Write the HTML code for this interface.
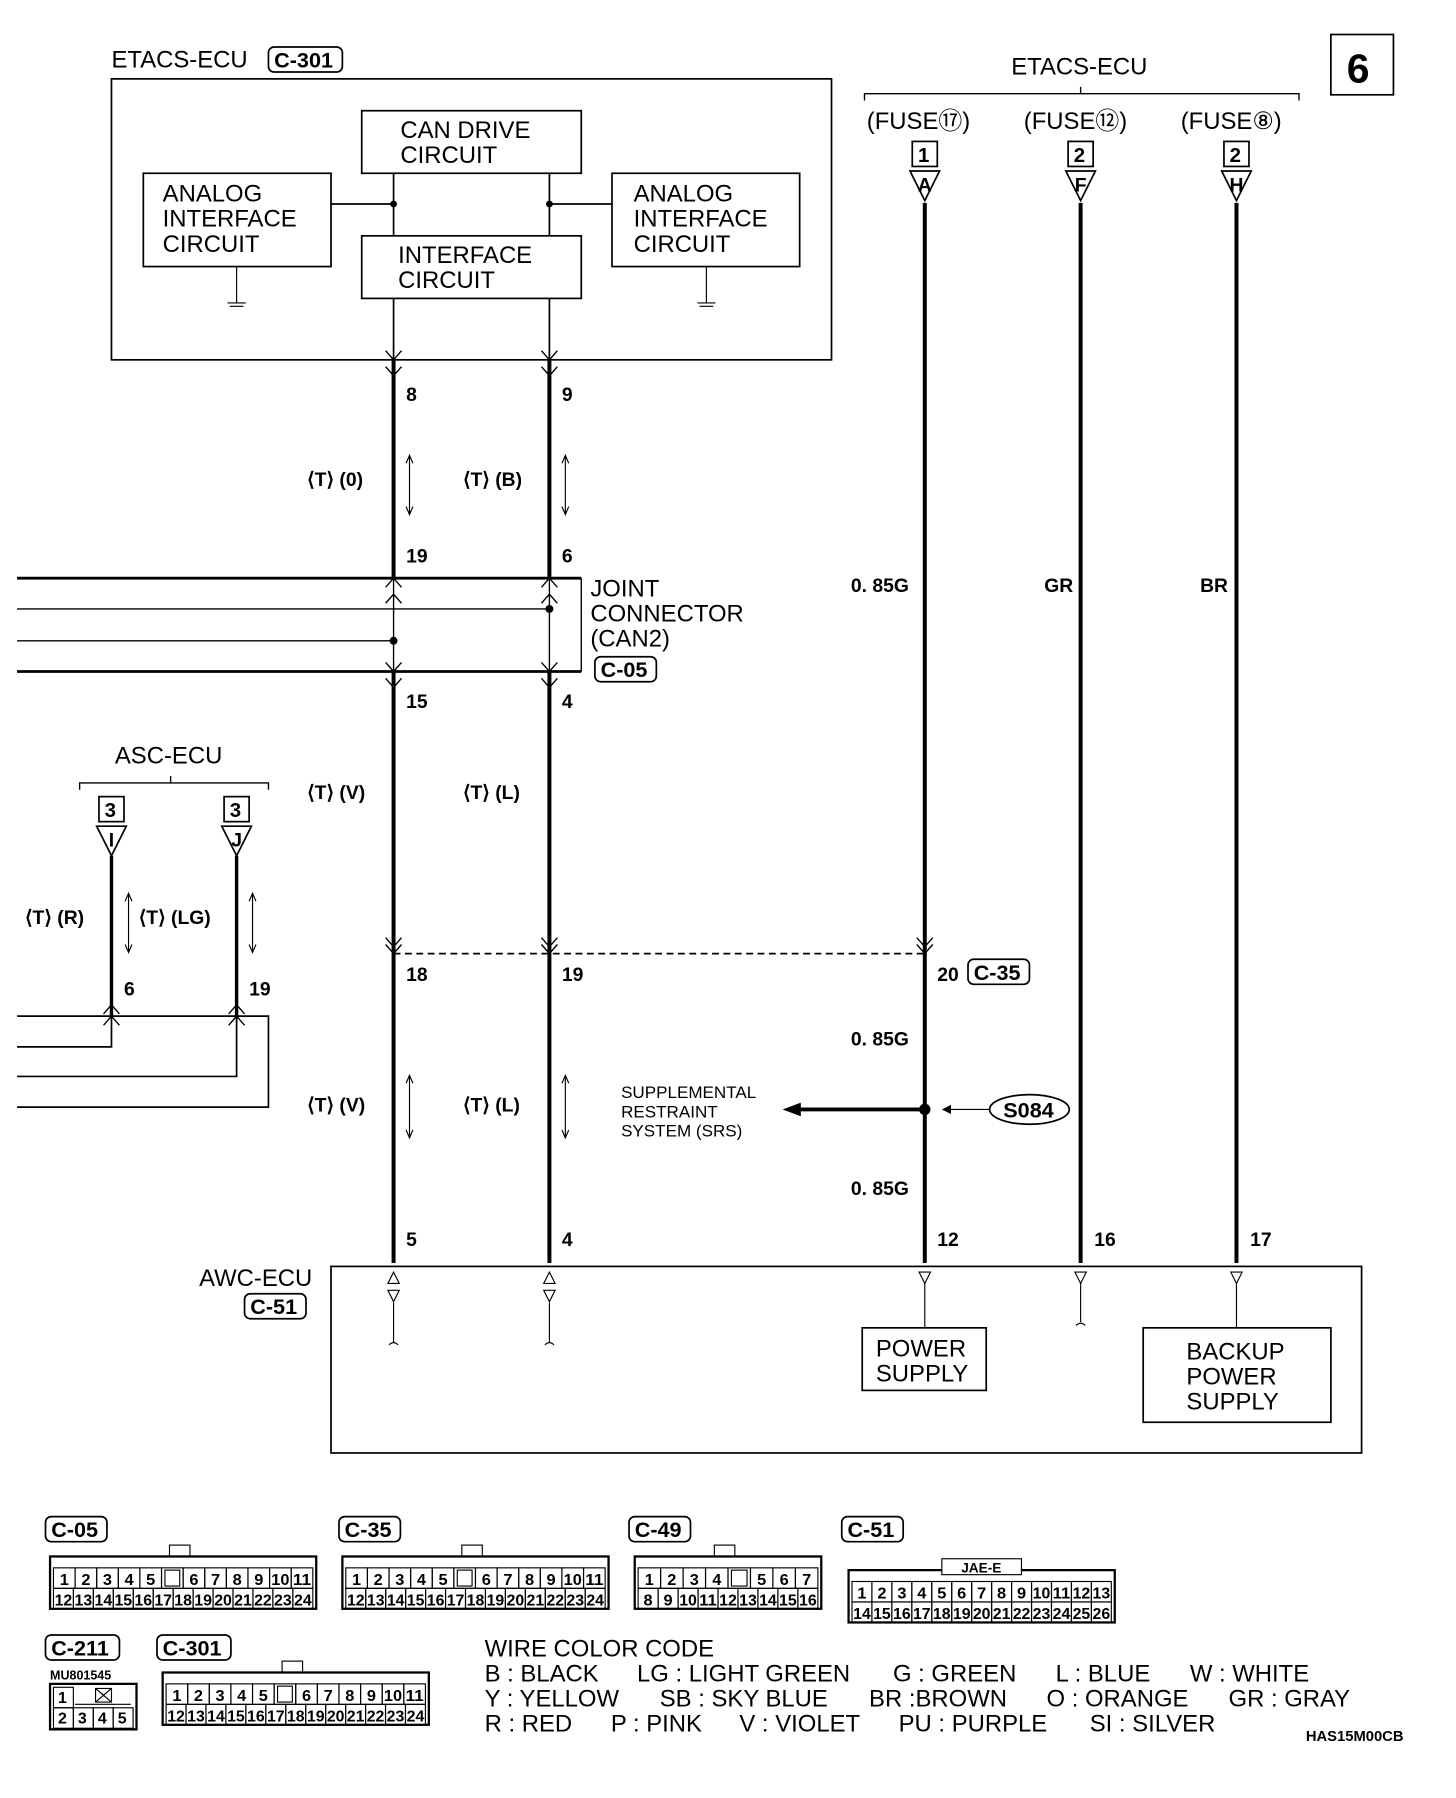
<!DOCTYPE html>
<html><head><meta charset="utf-8"><style>
html,body{margin:0;padding:0;background:#fff}
svg{display:block}
text{font-family:"Liberation Sans",sans-serif;fill:#000;white-space:pre}
.b{font-weight:bold}
</style></head><body>
<svg id="s" width="1456" height="1798" viewBox="0 0 1280 1580" xmlns="http://www.w3.org/2000/svg">
<g fill="none" stroke="#000" stroke-width="1.5">
<rect x="1170" y="30" width="55" height="53"/>
<rect x="98" y="69" width="633" height="247"/>
<rect x="318" y="97" width="193" height="55"/>
<rect x="126" y="152" width="165" height="82"/>
<rect x="318" y="207" width="193" height="55"/>
<rect x="538" y="152" width="165" height="82"/>
<path d="M291 179H346M483 179H538M346 152V207M483 152V207M346 262V316M483 262V316"/>
<path d="M208 234V266M200 266h16M202 269h12M621 234V266M613 266h16M615 269h12" stroke-width="1"/>
<path d="M760 88V82H1142V88M950 82V76M70 694V688H236V694M150 688V682" stroke-width="1.2"/>
<path d="M15 535H483M15 563H346M346 508V590M483 508V590M511 508V590" stroke-width="1.2"/>
<path d="M346 316V508M483 316V508M346 590V1110M483 590V1110M813 178V1110M950 178V1110M1087 178V1110" stroke-width="3.5"/>
<path d="M15 508H511M15 590H511" stroke-width="2.5"/>
<path d="M98 752V893M208 752V893" stroke-width="3"/>
<path d="M15 893H236V973H15M15 920H98V893M15 946H208V893" stroke-width="1.5"/>
<path d="M346 838H813" stroke-dasharray="6,4"/>
<path d="M813 975H700" stroke-width="3.5"/>
<path d="M870 975H830" stroke-width="1"/>
<rect x="291" y="1113" width="906" height="164"/>
<rect x="758" y="1167" width="109" height="55"/>
<rect x="1005" y="1167" width="165" height="83"/>
<path d="M813 1128V1167M1087 1128V1167M950 1128V1162M346 1145V1180M483 1145V1180" stroke-width="1"/>
<path d="M342 1182q4-4 8 0M479 1182q4-4 8 0M946 1165q4-4 8 0" stroke-width="1"/>
<ellipse cx="905" cy="975" rx="35" ry="13"/>
</g>
<g fill="#000"><circle cx="346" cy="179" r="3"/><circle cx="483" cy="179" r="3"/><circle cx="483" cy="535" r="3.5"/><circle cx="346" cy="563" r="3.5"/><circle cx="813" cy="975" r="5"/>
<path d="M688 975l16-6v12z"/><path d="M828 975l8-4v8z"/></g>
<g font-size="21">
<text x="1184" y="72" font-size="36" class="b">6</text>
<text x="98" y="59">ETACS-ECU</text>
<text x="352" y="121">CAN DRIVE</text><text x="352" y="143">CIRCUIT</text>
<text x="143" y="177">ANALOG</text><text x="143" y="199">INTERFACE</text><text x="143" y="221">CIRCUIT</text>
<text x="557" y="177">ANALOG</text><text x="557" y="199">INTERFACE</text><text x="557" y="221">CIRCUIT</text>
<text x="350" y="231">INTERFACE</text><text x="350" y="253">CIRCUIT</text>
<text x="889" y="65">ETACS-ECU</text>
<text x="762" y="113">(FUSE⑰)</text><text x="900" y="113">(FUSE⑫)</text><text x="1038" y="113">(FUSE⑧)</text>
<text x="519" y="524">JOINT</text><text x="519" y="546">CONNECTOR</text><text x="519" y="568">(CAN2)</text>
<text x="101" y="671">ASC-ECU</text>
<text x="175" y="1130">AWC-ECU</text>
<text x="770" y="1192">POWER</text><text x="770" y="1214">SUPPLY</text>
<text x="1043" y="1195">BACKUP</text><text x="1043" y="1217">POWER</text><text x="1043" y="1239">SUPPLY</text>
<text x="426" y="1456">WIRE COLOR CODE</text>
<text x="426" y="1478">B : BLACK</text><text x="560" y="1478">LG : LIGHT GREEN</text><text x="785" y="1478">G : GREEN</text><text x="928" y="1478">L : BLUE</text><text x="1046" y="1478">W : WHITE</text>
<text x="426" y="1500">Y : YELLOW</text><text x="580" y="1500">SB : SKY BLUE</text><text x="764" y="1500">BR :BROWN</text><text x="920" y="1500">O : ORANGE</text><text x="1080" y="1500">GR : GRAY</text>
<text x="426" y="1522">R : RED</text><text x="537" y="1522">P : PINK</text><text x="650" y="1522">V : VIOLET</text><text x="790" y="1522">PU : PURPLE</text><text x="958" y="1522">SI : SILVER</text>
</g>
<g font-size="17" class="b">
<text x="546" y="965" font-size="15" font-weight="normal">SUPPLEMENTAL</text><text x="546" y="982" font-size="15" font-weight="normal">RESTRAINT</text><text x="546" y="999" font-size="15" font-weight="normal">SYSTEM (SRS)</text>
<text x="357" y="352">8</text><text x="494" y="352">9</text>
<text x="357" y="494">19</text><text x="494" y="494">6</text>
<text x="357" y="622">15</text><text x="494" y="622">4</text>
<text x="357" y="862">18</text><text x="494" y="862">19</text><text x="824" y="862">20</text>
<text x="357" y="1095">5</text><text x="494" y="1095">4</text><text x="824" y="1095">12</text><text x="962" y="1095">16</text><text x="1099" y="1095">17</text>
<text x="109" y="875">6</text><text x="219" y="875">19</text>
<text x="270" y="427">⟨T⟩ (0)</text><text x="407" y="427">⟨T⟩ (B)</text>
<text x="270" y="702">⟨T⟩ (V)</text><text x="407" y="702">⟨T⟩ (L)</text>
<text x="270" y="977">⟨T⟩ (V)</text><text x="407" y="977">⟨T⟩ (L)</text>
<text x="22" y="812">⟨T⟩ (R)</text><text x="122" y="812">⟨T⟩ (LG)</text>
<text x="748" y="520">0. 85G</text><text x="918" y="520">GR</text><text x="1055" y="520">BR</text>
<text x="748" y="919">0. 85G</text><text x="748" y="1050">0. 85G</text>
<text x="1148" y="1530" font-size="13">HAS15M00CB</text>
<text x="44" y="1476" font-size="11">MU801545</text>
<text x="882" y="982" font-size="19">S084</text>
</g>
<script>
var S=document.getElementById('s'),NS='http://www.w3.org/2000/svg';
function el(t,a,p,txt){var e=document.createElementNS(NS,t);for(var k in a)e.setAttribute(k,a[k]);if(txt!==undefined)e.textContent=txt;(p||S).appendChild(e);return e;}
function tag(x,y,s,w){el('rect',{x:x,y:y,width:w||(s.length*11+10),height:22,rx:5,fill:'none',stroke:'#000','stroke-width':1.5});el('text',{x:x+5,y:y+18,'font-size':19,'font-weight':'bold'},null,s);}
tag(236,41,'C-301');tag(523,577,'C-05');tag(851,843,'C-35');tag(215,1137,'C-51');
function tc(x,n,l,y){el('rect',{x:x-11,y:y,width:22,height:22,fill:'none',stroke:'#000','stroke-width':1.5});el('text',{x:x-6,y:y+18,'font-size':18,'font-weight':'bold'},null,n);
el('path',{d:'M'+(x-13)+' '+(y+26)+'L'+(x+13)+' '+(y+26)+'L'+x+' '+(y+52)+'Z',fill:'none',stroke:'#000','stroke-width':1.5});el('text',{x:x,y:y+44,'font-size':17,'font-weight':'bold','text-anchor':'middle'},null,l);}
tc(813,'1','A',124);tc(950,'2','F',124);tc(1087,'2','H',124);tc(98,'3','I',700);tc(208,'3','J',700);
function ch(x,y,up){var d=up?-8:8;el('path',{d:'M'+(x-7)+' '+(y-d)+'L'+x+' '+y+'L'+(x+7)+' '+(y-d),fill:'none',stroke:'#000','stroke-width':1.2});}
[[346,316],[483,316],[346,330],[483,330],[346,590],[483,590],[346,604],[483,604],[346,838],[483,838],[813,838],[346,832],[483,832],[813,832]].forEach(function(p){ch(p[0],p[1],0)});
[[346,508],[483,508],[346,522],[483,522],[98,893],[208,893],[98,883],[208,883]].forEach(function(p){ch(p[0],p[1],1)});
function da(x,y1,y2){el('path',{d:'M'+x+' '+y1+'V'+y2+'M'+(x-3)+' '+(y1+7)+'L'+x+' '+y1+'L'+(x+3)+' '+(y1+7)+'M'+(x-3)+' '+(y2-7)+'L'+x+' '+y2+'L'+(x+3)+' '+(y2-7),fill:'none',stroke:'#000','stroke-width':1});}
da(360,400,452);da(497,400,452);da(113,785,837);da(222,785,837);da(360,945,1000);da(497,945,1000);
[813,950,1087].forEach(function(x){el('path',{d:'M'+(x-5)+' 1118H'+(x+5)+'L'+x+' 1128Z',fill:'none',stroke:'#000'});});
[346,483].forEach(function(x){el('path',{d:'M'+(x-5)+' 1128H'+(x+5)+'L'+x+' 1118ZM'+(x-5)+' 1134H'+(x+5)+'L'+x+' 1144Z',fill:'none',stroke:'#000'});});
function conn(x,y,w,top,bot,name,ny,nx,nokey){tag(nx||x-4,ny,name);el('rect',{x:x,y:y,width:w,height:46,fill:'none',stroke:'#000','stroke-width':2});
if(!nokey)el('rect',{x:x+w/2-12,y:y-10,width:18,height:10,fill:'none',stroke:'#000'});
[[top,y+10],[bot,y+28]].forEach(function(r){var c=r[0],cw=(w-6)/c.length;c.forEach(function(t,i){var cx=x+3+i*cw;el('rect',{x:cx,y:r[1],width:cw,height:18,fill:'none',stroke:'#000'});if(t)el('text',{x:cx+cw/2,y:r[1]+15,'font-size':14,'font-weight':'bold','text-anchor':'middle',textLength:Math.min(cw-2,t.length*8),lengthAdjust:'spacingAndGlyphs'},null,t);else el('rect',{x:cx+3,y:r[1]+2,width:cw-6,height:14,fill:'none',stroke:'#000'});});});}
function rng(a,b){var r=[];for(var i=a;i<=b;i++)r.push(''+i);return r;}
var t24=rng(1,5).concat(['']).concat(rng(6,11)),b24=rng(12,24);
conn(44,1368,234,t24,b24,'C-05',1333,40);
conn(301,1368,234,t24,b24,'C-35',1333,298);
conn(558,1368,164,['1','2','3','4','','5','6','7'],rng(8,16),'C-49',1333,553);
conn(746,1380,234,rng(1,13),rng(14,26),'C-51',1333,740,1);
conn(143,1470,234,t24,b24,'C-301',1437,138);
tag(40,1437,'C-211');
el('rect',{x:44,y:1480,width:76,height:40,fill:'none',stroke:'#000','stroke-width':2});
['1','','','','2','3','4','5'].forEach(function(t,i){var cx=47+(i%4)*17.5,cy=1483+Math.floor(i/4)*18;if(i>0&&i<4)return;el('rect',{x:cx,y:cy,width:17.5,height:18,fill:'none',stroke:'#000'});el('text',{x:cx+4,y:cy+14,'font-size':14,'font-weight':'bold'},null,t);});
el('path',{d:'M66 1498H115M84 1484h14v12h-14zM84 1484l14 12M98 1484l-14 12',fill:'none',stroke:'#000'});
el('rect',{x:828,y:1370,width:70,height:14,fill:'#fff',stroke:'#000'});el('text',{x:845,y:1382,'font-size':12,'font-weight':'bold'},null,'JAE-E');
</script>
</svg>
</body></html>
